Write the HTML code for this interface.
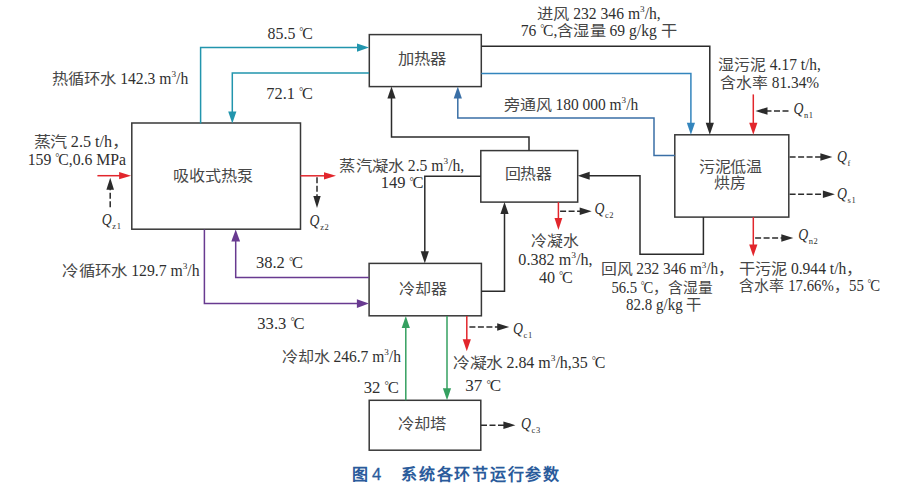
<!DOCTYPE html>
<html lang="zh-CN"><head><meta charset="utf-8"><style>
html,body{margin:0;padding:0;background:#fff;width:911px;height:487px;overflow:hidden}
svg{display:block}
text{font-family:"Liberation Serif",serif;fill:#2f2f2f;white-space:pre}
.c{fill:#474747}
</style></head><body>
<svg width="911" height="487" viewBox="0 0 911 487">
<g id="lines">
<rect x="131.80" y="123.00" width="168.70" height="106.20" fill="none" stroke="#383838" stroke-width="1.5"/>
<rect x="369.30" y="34.60" width="112.00" height="52.00" fill="none" stroke="#383838" stroke-width="1.5"/>
<rect x="480.80" y="150.60" width="96.90" height="51.50" fill="none" stroke="#383838" stroke-width="1.5"/>
<rect x="369.10" y="263.40" width="112.30" height="52.40" fill="none" stroke="#383838" stroke-width="1.5"/>
<rect x="369.20" y="400.30" width="111.60" height="49.90" fill="none" stroke="#383838" stroke-width="1.5"/>
<rect x="674.80" y="134.80" width="114.00" height="82.30" fill="none" stroke="#383838" stroke-width="1.5"/>
<path d="M200.60,123.50 L200.60,47.60 L358.00,47.60" fill="none" stroke="#2295ad" stroke-width="1.5"/><polygon points="369.00,47.60 357.00,43.50 357.00,51.70" fill="#2295ad"/>
<path d="M369.00,73.00 L232.30,73.00 L232.30,112.50" fill="none" stroke="#2295ad" stroke-width="1.5"/><polygon points="232.30,123.50 228.20,111.50 236.40,111.50" fill="#2295ad"/>
<path d="M481.30,73.40 L690.90,73.40 L690.90,123.80" fill="none" stroke="#3385bd" stroke-width="1.5"/><polygon points="690.90,134.80 686.80,122.80 695.00,122.80" fill="#3385bd"/>
<path d="M481.30,46.20 L709.80,46.20 L709.80,123.80" fill="none" stroke="#2b2b2b" stroke-width="1.5"/><polygon points="709.80,134.80 705.70,122.80 713.90,122.80" fill="#2b2b2b"/>
<path d="M674.80,155.50 L654.00,155.50 L654.00,118.00 L457.80,118.00 L457.80,97.60" fill="none" stroke="#3a6fa6" stroke-width="1.5"/><polygon points="457.80,86.60 453.70,98.60 461.90,98.60" fill="#3a6fa6"/>
<path d="M529.00,150.60 L529.00,136.90 L391.50,136.90 L391.50,97.60" fill="none" stroke="#2b2b2b" stroke-width="1.5"/><polygon points="391.50,86.60 387.40,98.60 395.60,98.60" fill="#2b2b2b"/>
<path d="M97.40,175.70 L120.10,175.70" fill="none" stroke="#e2262c" stroke-width="1.5"/><polygon points="131.10,175.70 119.10,172.10 119.10,179.30" fill="#e2262c"/>
<path d="M110.20,207.20 L110.20,188.80" fill="none" stroke="#2b2b2b" stroke-width="1.5" stroke-dasharray="6,2.5"/><polygon points="110.20,177.80 106.40,189.80 114.00,189.80" fill="#2b2b2b"/>
<path d="M300.50,175.80 L325.00,175.80" fill="none" stroke="#e2262c" stroke-width="1.5"/><polygon points="336.00,175.80 324.00,172.20 324.00,179.40" fill="#e2262c"/>
<path d="M317.00,177.20 L317.00,197.10" fill="none" stroke="#2b2b2b" stroke-width="1.5" stroke-dasharray="6,2.5"/><polygon points="317.00,208.10 313.30,196.10 320.70,196.10" fill="#2b2b2b"/>
<path d="M480.80,176.20 L424.80,176.20 L424.80,252.30" fill="none" stroke="#2b2b2b" stroke-width="1.5"/><polygon points="424.80,263.30 420.70,251.30 428.90,251.30" fill="#2b2b2b"/>
<path d="M481.40,291.20 L504.50,291.20 L504.50,213.10" fill="none" stroke="#2b2b2b" stroke-width="1.5"/><polygon points="504.50,202.10 500.40,214.10 508.60,214.10" fill="#2b2b2b"/>
<path d="M703.40,217.10 L703.40,254.30 L640.00,254.30 L640.00,175.80 L588.70,175.80" fill="none" stroke="#2b2b2b" stroke-width="1.5"/><polygon points="577.70,175.80 589.70,171.80 589.70,179.80" fill="#2b2b2b"/>
<path d="M558.40,202.10 L558.40,219.10" fill="none" stroke="#e2262c" stroke-width="1.5"/><polygon points="558.40,230.10 554.50,218.10 562.30,218.10" fill="#e2262c"/>
<path d="M560.10,211.20 L580.70,211.20" fill="none" stroke="#2b2b2b" stroke-width="1.5" stroke-dasharray="6,2.5"/><polygon points="591.70,211.20 579.70,207.40 579.70,215.00" fill="#2b2b2b"/>
<path d="M204.40,229.40 L204.40,303.60 L357.90,303.60" fill="none" stroke="#683a90" stroke-width="1.5"/><polygon points="368.90,303.60 356.90,299.30 356.90,307.90" fill="#683a90"/>
<path d="M368.90,277.50 L235.70,277.50 L235.70,240.40" fill="none" stroke="#683a90" stroke-width="1.5"/><polygon points="235.70,229.40 231.30,241.40 240.10,241.40" fill="#683a90"/>
<path d="M405.80,400.30 L405.80,326.90" fill="none" stroke="#35a060" stroke-width="1.5"/><polygon points="405.80,315.90 401.70,327.90 409.90,327.90" fill="#35a060"/>
<path d="M447.00,315.90 L447.00,389.30" fill="none" stroke="#35a060" stroke-width="1.5"/><polygon points="447.00,400.30 442.90,388.30 451.10,388.30" fill="#35a060"/>
<path d="M466.80,315.90 L466.80,340.30" fill="none" stroke="#e2262c" stroke-width="1.5"/><polygon points="466.80,351.30 462.70,339.30 470.90,339.30" fill="#e2262c"/>
<path d="M469.40,327.00 L498.20,327.00" fill="none" stroke="#2b2b2b" stroke-width="1.5" stroke-dasharray="6,2.5"/><polygon points="509.20,327.00 497.20,323.20 497.20,330.80" fill="#2b2b2b"/>
<path d="M481.00,425.20 L504.40,425.20" fill="none" stroke="#2b2b2b" stroke-width="1.5" stroke-dasharray="6,2.5"/><polygon points="515.40,425.20 503.40,421.40 503.40,429.00" fill="#2b2b2b"/>
<path d="M753.30,94.40 L753.30,123.80" fill="none" stroke="#e2262c" stroke-width="1.5"/><polygon points="753.30,134.80 749.20,122.80 757.40,122.80" fill="#e2262c"/>
<path d="M788.50,111.00 L766.50,111.00" fill="none" stroke="#2b2b2b" stroke-width="1.5" stroke-dasharray="6,2.5"/><polygon points="755.50,111.00 767.50,107.20 767.50,114.80" fill="#2b2b2b"/>
<path d="M789.60,157.00 L821.40,157.00" fill="none" stroke="#2b2b2b" stroke-width="1.5" stroke-dasharray="6,2.5"/><polygon points="832.40,157.00 820.40,153.20 820.40,160.80" fill="#2b2b2b"/>
<path d="M789.60,194.30 L823.90,194.30" fill="none" stroke="#2b2b2b" stroke-width="1.5" stroke-dasharray="6,2.5"/><polygon points="834.90,194.30 822.90,190.50 822.90,198.10" fill="#2b2b2b"/>
<path d="M753.30,217.10 L753.30,245.40" fill="none" stroke="#e2262c" stroke-width="1.5"/><polygon points="753.30,256.40 749.20,244.40 757.40,244.40" fill="#e2262c"/>
<path d="M755.10,238.00 L782.30,238.00" fill="none" stroke="#2b2b2b" stroke-width="1.5" stroke-dasharray="6,2.5"/><polygon points="793.30,238.00 781.30,234.20 781.30,241.80" fill="#2b2b2b"/>
</g>
<g id="texts">
<text id="t85" x="267.80" y="39.00" transform="matrix(1.0372 0 0 1 -10.17 0.00)"><tspan font-size="16.8" textLength="30.58" lengthAdjust="spacingAndGlyphs">85.5 </tspan><tspan font-size="10" baseline-shift="4">°</tspan><tspan font-size="16.8" dx="-1.2" textLength="10.20" lengthAdjust="spacingAndGlyphs">C</tspan></text>
<text id="t72" x="267.20" y="98.40" transform="matrix(1.0667 0 0 1 -18.67 0.40)"><tspan font-size="16.8" textLength="30.58" lengthAdjust="spacingAndGlyphs">72.1 </tspan><tspan font-size="10" baseline-shift="4">°</tspan><tspan font-size="16.8" dx="-1.2" textLength="10.20" lengthAdjust="spacingAndGlyphs">C</tspan></text>
<text id="trx" x="52.40" y="84.10" transform="matrix(1.0235 0 0 1 -1.84 0.10)"><tspan class="c" font-size="15.0" textLength="63.00" lengthAdjust="spacingAndGlyphs">热循环水</tspan><tspan font-size="16.8" textLength="53.93" lengthAdjust="spacingAndGlyphs"> 142.3 m</tspan><tspan font-size="9" baseline-shift="6.5">3</tspan><tspan font-size="16.8" textLength="11.89" lengthAdjust="spacingAndGlyphs">/h</tspan></text>
<text id="tzq1" x="34.80" y="147.00" transform="matrix(1.0564 0 0 1 -3.23 0.00)"><tspan class="c" font-size="15.0" textLength="31.50" lengthAdjust="spacingAndGlyphs">蒸汽</tspan><tspan font-size="16.8" textLength="42.89" lengthAdjust="spacingAndGlyphs"> 2.5 t/h</tspan><tspan class="c" font-size="15.0" textLength="15.75" lengthAdjust="spacingAndGlyphs">，</tspan></text>
<text id="tzq2" x="29.40" y="165.20" transform="matrix(1.0312 0 0 1 -2.57 0.20)"><tspan font-size="16.8" textLength="26.75" lengthAdjust="spacingAndGlyphs">159 </tspan><tspan font-size="10" baseline-shift="4">°</tspan><tspan font-size="16.8" dx="-1.2" textLength="10.20" lengthAdjust="spacingAndGlyphs">C</tspan><tspan font-size="16.8" textLength="55.64" lengthAdjust="spacingAndGlyphs">,0.6 MPa</tspan></text>
<text id="tjf1" x="538.60" y="18.80" transform="matrix(1.0218 0 0 1 -13.20 -0.20)"><tspan class="c" font-size="15.0" textLength="31.50" lengthAdjust="spacingAndGlyphs">进风</tspan><tspan font-size="16.8" textLength="69.22" lengthAdjust="spacingAndGlyphs"> 232 346 m</tspan><tspan font-size="9" baseline-shift="6.5">3</tspan><tspan font-size="16.8" textLength="15.71" lengthAdjust="spacingAndGlyphs">/h,</tspan></text>
<text id="tjf2" x="521.90" y="36.10" transform="matrix(1.0205 0 0 1 -11.84 0.10)"><tspan font-size="16.8" textLength="19.11" lengthAdjust="spacingAndGlyphs">76 </tspan><tspan font-size="10" baseline-shift="4">°</tspan><tspan font-size="16.8" dx="-1.2" textLength="10.20" lengthAdjust="spacingAndGlyphs">C</tspan><tspan font-size="16.8" textLength="3.82" lengthAdjust="spacingAndGlyphs">,</tspan><tspan class="c" font-size="15.0" textLength="47.25" lengthAdjust="spacingAndGlyphs">含湿量</tspan><tspan font-size="16.8" textLength="53.93" lengthAdjust="spacingAndGlyphs"> 69 g/kg </tspan><tspan class="c" font-size="15.0" textLength="15.75" lengthAdjust="spacingAndGlyphs">干</tspan></text>
<text id="tpt" x="504.40" y="110.00" transform="matrix(1.0114 0 0 1 -6.34 0.00)"><tspan class="c" font-size="15.0" textLength="47.25" lengthAdjust="spacingAndGlyphs">旁通风</tspan><tspan font-size="16.8" textLength="69.22" lengthAdjust="spacingAndGlyphs"> 180 000 m</tspan><tspan font-size="9" baseline-shift="6.5">3</tspan><tspan font-size="16.8" textLength="11.89" lengthAdjust="spacingAndGlyphs">/h</tspan></text>
<text id="tsw1" x="719.20" y="71.00" transform="matrix(1.0080 0 0 1 -6.56 -0.50)"><tspan class="c" font-size="15.0" textLength="47.25" lengthAdjust="spacingAndGlyphs">湿污泥</tspan><tspan font-size="16.8" textLength="54.36" lengthAdjust="spacingAndGlyphs"> 4.17 t/h,</tspan></text>
<text id="tsw2" x="721.20" y="88.40" transform="matrix(1.0052 0 0 1 -4.52 -0.10)"><tspan class="c" font-size="15.0" textLength="47.25" lengthAdjust="spacingAndGlyphs">含水率</tspan><tspan font-size="16.8" textLength="50.96" lengthAdjust="spacingAndGlyphs"> 81.34%</tspan></text>
<text id="tzn1" x="340.20" y="170.90" transform="matrix(1.0250 0 0 1 -9.32 -0.10)"><tspan class="c" font-size="15.0" textLength="63.00" lengthAdjust="spacingAndGlyphs">蒸汽凝水</tspan><tspan font-size="16.8" textLength="38.65" lengthAdjust="spacingAndGlyphs"> 2.5 m</tspan><tspan font-size="9" baseline-shift="6.5">3</tspan><tspan font-size="16.8" textLength="15.71" lengthAdjust="spacingAndGlyphs">/h,</tspan></text>
<text id="tzn2" x="382.40" y="188.70" transform="matrix(1.0811 0 0 1 -32.74 -0.30)"><tspan font-size="16.8" textLength="26.75" lengthAdjust="spacingAndGlyphs">149 </tspan><tspan font-size="10" baseline-shift="4">°</tspan><tspan font-size="16.8" dx="-1.2" textLength="10.20" lengthAdjust="spacingAndGlyphs">C</tspan></text>
<text id="tln1" x="532.20" y="246.90" transform="matrix(1.0043 0 0 1 -3.12 -0.60)"><tspan class="c" font-size="15.0" textLength="47.25" lengthAdjust="spacingAndGlyphs">冷凝水</tspan></text>
<text id="tln2" x="519.20" y="265.10" transform="matrix(1.0551 0 0 1 -29.44 0.10)"><tspan font-size="16.8" textLength="50.11" lengthAdjust="spacingAndGlyphs">0.382 m</tspan><tspan font-size="9" baseline-shift="6.5">3</tspan><tspan font-size="16.8" textLength="15.71" lengthAdjust="spacingAndGlyphs">/h,</tspan></text>
<text id="tln3" x="539.00" y="282.30" transform="matrix(1.0548 0 0 1 -29.56 0.30)"><tspan font-size="16.8" textLength="19.11" lengthAdjust="spacingAndGlyphs">40 </tspan><tspan font-size="10" baseline-shift="4">°</tspan><tspan font-size="16.8" dx="-1.2" textLength="10.20" lengthAdjust="spacingAndGlyphs">C</tspan></text>
<text id="tlx" x="63.20" y="276.10" transform="matrix(1.0295 0 0 1 -2.69 0.10)"><tspan class="c" font-size="15.0" textLength="63.00" lengthAdjust="spacingAndGlyphs">冷循环水</tspan><tspan font-size="16.8" textLength="53.93" lengthAdjust="spacingAndGlyphs"> 129.7 m</tspan><tspan font-size="9" baseline-shift="6.5">3</tspan><tspan font-size="16.8" textLength="11.89" lengthAdjust="spacingAndGlyphs">/h</tspan></text>
<text id="t38" x="257.00" y="268.20" transform="matrix(1.0786 0 0 1 -21.27 0.20)"><tspan font-size="16.8" textLength="30.58" lengthAdjust="spacingAndGlyphs">38.2 </tspan><tspan font-size="10" baseline-shift="4">°</tspan><tspan font-size="16.8" dx="-1.2" textLength="10.20" lengthAdjust="spacingAndGlyphs">C</tspan></text>
<text id="t33" x="258.70" y="328.40" transform="matrix(1.0854 0 0 1 -23.50 0.40)"><tspan font-size="16.8" textLength="30.58" lengthAdjust="spacingAndGlyphs">33.3 </tspan><tspan font-size="10" baseline-shift="4">°</tspan><tspan font-size="16.8" dx="-1.2" textLength="10.20" lengthAdjust="spacingAndGlyphs">C</tspan></text>
<text id="thf1" x="601.90" y="274.00" transform="matrix(1.0033 0 0 1 -3.09 0.00)"><tspan class="c" font-size="15.0" textLength="31.50" lengthAdjust="spacingAndGlyphs">回风</tspan><tspan font-size="16.8" textLength="69.22" lengthAdjust="spacingAndGlyphs"> 232 346 m</tspan><tspan font-size="9" baseline-shift="6.5">3</tspan><tspan font-size="16.8" textLength="11.89" lengthAdjust="spacingAndGlyphs">/h</tspan><tspan class="c" font-size="15.0" textLength="15.75" lengthAdjust="spacingAndGlyphs">，</tspan></text>
<text id="thf2" x="612.70" y="292.30" transform="matrix(0.9581 0 0 1 24.43 0.30)"><tspan font-size="16.8" textLength="30.58" lengthAdjust="spacingAndGlyphs">56.5 </tspan><tspan font-size="10" baseline-shift="4">°</tspan><tspan font-size="16.8" dx="-1.2" textLength="10.20" lengthAdjust="spacingAndGlyphs">C</tspan><tspan class="c" font-size="15.0" textLength="63.00" lengthAdjust="spacingAndGlyphs">，含湿量</tspan></text>
<text id="thf3" x="626.50" y="310.00" transform="matrix(0.9803 0 0 1 11.88 0.50)"><tspan font-size="16.8" textLength="61.58" lengthAdjust="spacingAndGlyphs">82.8 g/kg </tspan><tspan class="c" font-size="15.0" textLength="15.75" lengthAdjust="spacingAndGlyphs">干</tspan></text>
<text id="tgw1" x="739.90" y="274.10" transform="matrix(1.0202 0 0 1 -16.06 -0.40)"><tspan class="c" font-size="15.0" textLength="47.25" lengthAdjust="spacingAndGlyphs">干污泥</tspan><tspan font-size="16.8" textLength="58.18" lengthAdjust="spacingAndGlyphs"> 0.944 t/h</tspan><tspan class="c" font-size="15.0" textLength="15.75" lengthAdjust="spacingAndGlyphs">，</tspan></text>
<text id="tgw2" x="739.90" y="291.80" transform="matrix(0.9667 0 0 1 23.60 -0.70)"><tspan class="c" font-size="15.0" textLength="47.25" lengthAdjust="spacingAndGlyphs">含水率</tspan><tspan font-size="16.8" textLength="50.96" lengthAdjust="spacingAndGlyphs"> 17.66%</tspan><tspan class="c" font-size="15.0" textLength="15.75" lengthAdjust="spacingAndGlyphs">，</tspan><tspan font-size="16.8" textLength="19.11" lengthAdjust="spacingAndGlyphs">55 </tspan><tspan font-size="10" baseline-shift="4">°</tspan><tspan font-size="16.8" dx="-1.2" textLength="10.20" lengthAdjust="spacingAndGlyphs">C</tspan></text>
<text id="tlq" x="282.80" y="361.90" transform="matrix(1.0155 0 0 1 -5.61 0.40)"><tspan class="c" font-size="15.0" textLength="47.25" lengthAdjust="spacingAndGlyphs">冷却水</tspan><tspan font-size="16.8" textLength="53.93" lengthAdjust="spacingAndGlyphs"> 246.7 m</tspan><tspan font-size="9" baseline-shift="6.5">3</tspan><tspan font-size="16.8" textLength="11.89" lengthAdjust="spacingAndGlyphs">/h</tspan></text>
<text id="tlnw" x="454.10" y="367.10" transform="matrix(1.0437 0 0 1 -20.81 0.60)"><tspan class="c" font-size="15.0" textLength="47.25" lengthAdjust="spacingAndGlyphs">冷凝水</tspan><tspan font-size="16.8" textLength="46.29" lengthAdjust="spacingAndGlyphs"> 2.84 m</tspan><tspan font-size="9" baseline-shift="6.5">3</tspan><tspan font-size="16.8" textLength="34.82" lengthAdjust="spacingAndGlyphs">/h,35 </tspan><tspan font-size="10" baseline-shift="4">°</tspan><tspan font-size="16.8" dx="-1.2" textLength="10.20" lengthAdjust="spacingAndGlyphs">C</tspan></text>
<text id="t32" x="364.90" y="392.30" transform="matrix(1.0933 0 0 1 -35.26 0.30)"><tspan font-size="16.8" textLength="19.11" lengthAdjust="spacingAndGlyphs">32 </tspan><tspan font-size="10" baseline-shift="4">°</tspan><tspan font-size="16.8" dx="-1.2" textLength="10.20" lengthAdjust="spacingAndGlyphs">C</tspan></text>
<text id="t37" x="466.70" y="391.70" transform="matrix(1.1167 0 0 1 -55.90 -0.30)"><tspan font-size="16.8" textLength="19.11" lengthAdjust="spacingAndGlyphs">37 </tspan><tspan font-size="10" baseline-shift="4">°</tspan><tspan font-size="16.8" dx="-1.2" textLength="10.20" lengthAdjust="spacingAndGlyphs">C</tspan></text>
<text id="b1" x="173.30" y="181.10" transform="matrix(1.0169 0 0 1 -3.64 -0.40)"><tspan class="c" font-size="15.0" textLength="78.75" lengthAdjust="spacingAndGlyphs">吸收式热泵</tspan></text>
<text id="b2" x="399.60" y="65.50" transform="matrix(1.0244 0 0 1 -11.20 -1.00)"><tspan class="c" font-size="15.0" textLength="47.25" lengthAdjust="spacingAndGlyphs">加热器</tspan></text>
<text id="b3" x="505.80" y="179.70" transform="matrix(1.0067 0 0 1 -4.58 -0.30)"><tspan class="c" font-size="15.0" textLength="47.25" lengthAdjust="spacingAndGlyphs">回热器</tspan></text>
<text id="b4" x="399.30" y="293.90" transform="matrix(1.0152 0 0 1 -6.79 -0.10)"><tspan class="c" font-size="15.0" textLength="47.25" lengthAdjust="spacingAndGlyphs">冷却器</tspan></text>
<text id="b5" x="399.60" y="429.00" transform="matrix(1.0244 0 0 1 -11.20 0.00)"><tspan class="c" font-size="15.0" textLength="47.25" lengthAdjust="spacingAndGlyphs">冷却塔</tspan></text>
<text id="b6a" x="699.80" y="172.40" transform="matrix(1.0131 0 0 1 -10.39 -0.10)"><tspan class="c" font-size="15.0" textLength="63.00" lengthAdjust="spacingAndGlyphs">污泥低温</tspan></text>
<text id="b6b" x="715.00" y="189.00" transform="matrix(1.0100 0 0 1 -8.16 -1.00)"><tspan class="c" font-size="15.0" textLength="31.50" lengthAdjust="spacingAndGlyphs">烘房</tspan></text>
<text id="qz1" x="102.90" y="225.50" transform="matrix(1.0000 0 0 1 -1.10 -1.00)"><tspan font-style="italic" font-size="16.8" textLength="9.95" lengthAdjust="spacingAndGlyphs">Q</tspan><tspan font-size="8.5" baseline-shift="-4" dx="0.6" letter-spacing="0.6">z1</tspan></text>
<text id="qz2" x="310.80" y="226.80" transform="matrix(1.0000 0 0 1 -1.20 -0.70)"><tspan font-style="italic" font-size="16.8" textLength="9.95" lengthAdjust="spacingAndGlyphs">Q</tspan><tspan font-size="8.5" baseline-shift="-4" dx="0.6" letter-spacing="0.6">z2</tspan></text>
<text id="qc2" x="595.20" y="214.00" transform="matrix(1.0000 0 0 1 -0.80 -0.50)"><tspan font-style="italic" font-size="16.8" textLength="9.95" lengthAdjust="spacingAndGlyphs">Q</tspan><tspan font-size="8.5" baseline-shift="-4" dx="0.6" letter-spacing="0.6">c2</tspan></text>
<text id="qc1" x="514.00" y="334.00" transform="matrix(1.0000 0 0 1 -1.00 -0.50)"><tspan font-style="italic" font-size="16.8" textLength="9.95" lengthAdjust="spacingAndGlyphs">Q</tspan><tspan font-size="8.5" baseline-shift="-4" dx="0.6" letter-spacing="0.6">c1</tspan></text>
<text id="qc3" x="521.50" y="429.80" transform="matrix(1.0000 0 0 1 -0.50 -0.70)"><tspan font-style="italic" font-size="16.8" textLength="9.95" lengthAdjust="spacingAndGlyphs">Q</tspan><tspan font-size="8.5" baseline-shift="-4" dx="0.6" letter-spacing="0.6">c3</tspan></text>
<text id="qn1" x="794.20" y="114.80" transform="matrix(1.0000 0 0 1 -0.80 -0.70)"><tspan font-style="italic" font-size="16.8" textLength="9.95" lengthAdjust="spacingAndGlyphs">Q</tspan><tspan font-size="8.5" baseline-shift="-4" dx="0.6" letter-spacing="0.6">n1</tspan></text>
<text id="qf" x="838.00" y="162.00" transform="matrix(1.0000 0 0 1 -1.00 -0.50)"><tspan font-style="italic" font-size="16.8" textLength="9.95" lengthAdjust="spacingAndGlyphs">Q</tspan><tspan font-size="8.5" baseline-shift="-4" dx="0.6" letter-spacing="0.6">f</tspan></text>
<text id="qs1" x="838.00" y="199.50" transform="matrix(1.0000 0 0 1 -1.00 -1.00)"><tspan font-style="italic" font-size="16.8" textLength="9.95" lengthAdjust="spacingAndGlyphs">Q</tspan><tspan font-size="8.5" baseline-shift="-4" dx="0.6" letter-spacing="0.6">s1</tspan></text>
<text id="qn2" x="798.60" y="240.70" transform="matrix(1.0000 0 0 1 -0.40 -0.80)"><tspan font-style="italic" font-size="16.8" textLength="9.95" lengthAdjust="spacingAndGlyphs">Q</tspan><tspan font-size="8.5" baseline-shift="-4" dx="0.6" letter-spacing="0.6">n2</tspan></text>
<text id="cap" x="352.4" y="479.6" style="fill:#2a5b9b;font-family:'Liberation Sans',sans-serif;font-weight:bold;font-size:16px">图</text><text id="cap4" x="372.0" y="479.8" style="fill:#2a5b9b;font-family:'Liberation Sans',sans-serif;font-size:16.6px;stroke:#2a5b9b;stroke-width:0.3">4</text><text id="cap2" x="401.1" y="479.6" textLength="158" lengthAdjust="spacing" style="fill:#2a5b9b;font-family:'Liberation Sans',sans-serif;font-weight:bold;font-size:16px">系统各环节运行参数</text>
</g>
</svg>
</body></html>
